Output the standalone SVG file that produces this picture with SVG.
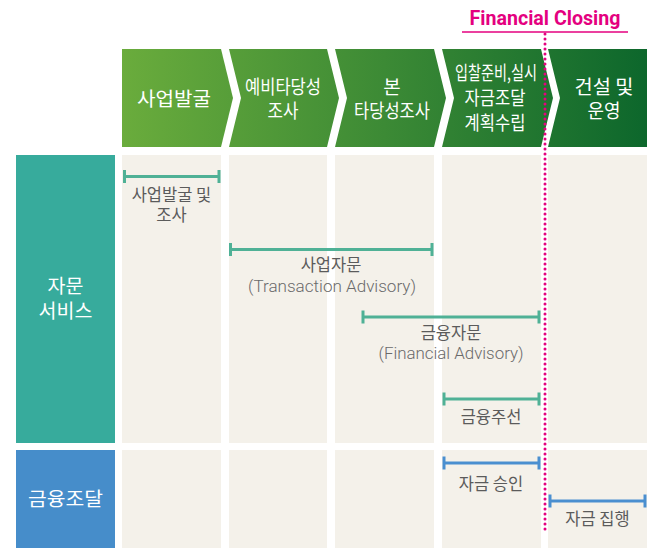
<svg xmlns="http://www.w3.org/2000/svg" width="656" height="548" viewBox="0 0 656 548">
  <style>
    .cell { fill: #f4f1ea; }
    .hd { fill: #ffffff; font-family: "Noto Sans CJK KR", "Noto Sans", sans-serif; font-size: 19px; text-anchor: middle; }
    .side { fill: #ffffff; font-family: "Noto Sans CJK KR", "Noto Sans", sans-serif; font-size: 19.5px; text-anchor: middle; }
    .lbl { fill: #5b5b5b; font-family: "Noto Sans CJK KR", "Noto Sans", sans-serif; font-size: 16.5px; text-anchor: middle; }
    .en { fill: #6a6a6a; font-family: Roboto, "Liberation Sans", sans-serif; font-weight: 300; font-size: 16px; text-anchor: middle; }
    .bar { fill: none; stroke-width: 3; }
    .teal { stroke: #4fb196; }
    .blue { stroke: #4a8fd0; }
  </style>
  <defs>
    <linearGradient id="hdGrad" gradientUnits="userSpaceOnUse" x1="122" y1="0" x2="647" y2="0">
      <stop offset="0" stop-color="#6aac3c"/>
      <stop offset="0.5" stop-color="#3c8a35"/>
      <stop offset="1" stop-color="#0d672c"/>
    </linearGradient>
  </defs>

  <!-- grid cells -->
  <g id="cells">
    <rect class="cell" x="122" y="155" width="99" height="288"/>
    <rect class="cell" x="229" y="155" width="98" height="288"/>
    <rect class="cell" x="335" y="155" width="99" height="288"/>
    <rect class="cell" x="442" y="155" width="99" height="288"/>
    <rect class="cell" x="548" y="155" width="99" height="288"/>
    <rect class="cell" x="122" y="450" width="99" height="98"/>
    <rect class="cell" x="229" y="450" width="98" height="98"/>
    <rect class="cell" x="335" y="450" width="99" height="98"/>
    <rect class="cell" x="442" y="450" width="99" height="98"/>
    <rect class="cell" x="548" y="450" width="99" height="98"/>
  </g>

  <!-- header chevrons -->
  <g id="stage1">
    <polygon points="122,49 221,49 233,98 221,147 122,147" fill="url(#hdGrad)"/>
    <text class="hd" x="174" y="106" font-size="20" textLength="74" lengthAdjust="spacingAndGlyphs">사업발굴</text>
  </g>
  <g id="stage2">
    <polygon points="229,49 327,49 339,98 327,147 229,147 241,98" fill="url(#hdGrad)"/>
    <text class="hd" x="283" y="94" textLength="76" lengthAdjust="spacingAndGlyphs">예비타당성</text>
    <text class="hd" x="283" y="118" textLength="31" lengthAdjust="spacingAndGlyphs">조사</text>
  </g>
  <g id="stage3">
    <polygon points="335,49 434,49 446,98 434,147 335,147 347,98" fill="url(#hdGrad)"/>
    <text class="hd" x="392" y="94">본</text>
    <text class="hd" x="392" y="118" textLength="76" lengthAdjust="spacingAndGlyphs">타당성조사</text>
  </g>
  <g id="stage4">
    <polygon points="442,49 541,49 553,98 541,147 442,147 454,98" fill="url(#hdGrad)"/>
    <text class="hd" x="496" y="80" textLength="82" lengthAdjust="spacingAndGlyphs">입찰준비,실시</text>
    <text class="hd" x="495" y="105" textLength="61" lengthAdjust="spacingAndGlyphs">자금조달</text>
    <text class="hd" x="495" y="130" textLength="61" lengthAdjust="spacingAndGlyphs">계획수립</text>
  </g>
  <g id="stage5">
    <polygon points="548,49 647,49 647,147 548,147 560,98" fill="url(#hdGrad)"/>
    <text class="hd" x="604" y="94" textLength="59" lengthAdjust="spacingAndGlyphs">건설 및</text>
    <text class="hd" x="604" y="118" textLength="33" lengthAdjust="spacingAndGlyphs">운영</text>
  </g>

  <!-- side labels -->
  <g id="advisory">
    <rect x="16" y="155" width="99" height="288" fill="#37ab9c"/>
    <text class="side" x="65.5" y="293">자문</text>
    <text class="side" x="65.5" y="318">서비스</text>
  </g>
  <g id="financing">
    <rect x="16" y="450" width="99" height="98" fill="#468dca"/>
    <text class="side" x="65.5" y="506" textLength="75" lengthAdjust="spacingAndGlyphs">금융조달</text>
  </g>

  <!-- Financial Closing marker -->
  <g id="financial-closing">
    <text x="545" y="25" fill="#e4007f" font-family="Roboto, 'Liberation Sans', sans-serif" font-weight="bold" font-size="20" text-anchor="middle" textLength="151" lengthAdjust="spacingAndGlyphs">Financial Closing</text>
    <line x1="462" y1="32" x2="628" y2="32" stroke="#e4007f" stroke-width="1.5"/>
  </g>

  <!-- range bars -->
  <g id="connectors">
    <path class="bar teal" d="M124.5 170V183M124.5 176.5H219M219 170V183"/>
    <path class="bar teal" d="M230.5 243V256M230.5 249.5H432M432 243V256"/>
    <path class="bar teal" d="M363 310.5V323.5M363 317H539M539 310.5V323.5"/>
    <path class="bar teal" d="M444 392.5V405.5M444 399H539M539 392.5V405.5"/>
    <path class="bar blue" d="M444 456.5V469.5M444 463H539M539 456.5V469.5"/>
    <path class="bar blue" d="M550 494.5V507.5M550 501H645M645 494.5V507.5"/>
  </g>

  <g id="bar-labels">
    <text class="lbl" x="171.5" y="201">사업발굴 및</text>
    <text class="lbl" x="171.5" y="221">조사</text>
    <text class="lbl" x="331" y="271">사업자문</text>
    <text class="en" x="332" y="292" textLength="168" lengthAdjust="spacingAndGlyphs">(Transaction Advisory)</text>
    <text class="lbl" x="451" y="339">금융자문</text>
    <text class="en" x="451" y="359" textLength="145" lengthAdjust="spacingAndGlyphs">(Financial Advisory)</text>
    <text class="lbl" x="491" y="423">금융주선</text>
    <text class="lbl" x="491" y="490">자금 승인</text>
    <text class="lbl" x="597.5" y="525">자금 집행</text>
  </g>

  <!-- dotted closing line -->
  <line id="closing-line" x1="545" y1="34" x2="545" y2="532" stroke="#e4007f" stroke-width="3" stroke-linecap="round" stroke-dasharray="0 5"/>
</svg>
